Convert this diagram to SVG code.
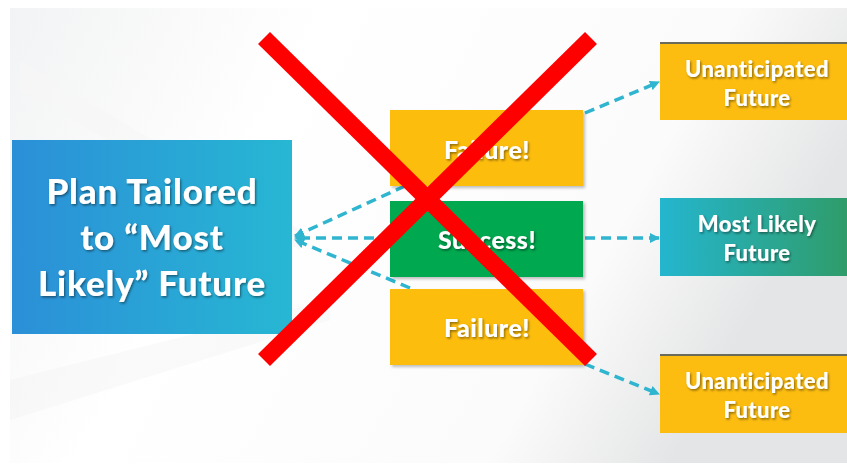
<svg xmlns="http://www.w3.org/2000/svg" width="847" height="465" viewBox="0 0 847 465">
<defs>
<linearGradient id="bg" x1="0" y1="0" x2="1" y2="0.3">
<stop offset="0" stop-color="#f2f3f4"/>
<stop offset="0.35" stop-color="#ffffff"/>
<stop offset="0.8" stop-color="#fbfbfb"/>
<stop offset="1" stop-color="#e4e5e6"/>
</linearGradient>
<linearGradient id="blue" x1="0" y1="0" x2="1" y2="0">
<stop offset="0" stop-color="#2b8fd8"/>
<stop offset="1" stop-color="#27b7d3"/>
</linearGradient>
<linearGradient id="teal" x1="0" y1="0" x2="1" y2="0">
<stop offset="0" stop-color="#24b6cf"/>
<stop offset="1" stop-color="#2f9c6a"/>
</linearGradient>
<filter id="ts" x="-10%" y="-20%" width="120%" height="150%">
<feDropShadow dx="1.2" dy="1.5" stdDeviation="0.8" flood-color="#000" flood-opacity="0.45"/>
</filter>
<filter id="bs" x="-5%" y="-5%" width="115%" height="120%">
<feDropShadow dx="2" dy="2" stdDeviation="1.5" flood-color="#000" flood-opacity="0.25"/>
</filter>
<marker id="ah" viewBox="0 0 10 10" refX="9" refY="5" markerWidth="10" markerHeight="10" markerUnits="userSpaceOnUse" orient="auto">
<path d="M0,0 L10,5 L0,10 z" fill="#2fb5cf"/>
</marker>
</defs>
<style>
.t{font-family:Lato,"Open Sans","DejaVu Sans",sans-serif;font-weight:900;fill:#fff;text-anchor:middle;filter:url(#ts)}
.big{font-size:35px;letter-spacing:0.8px}
.mid{font-size:25px;letter-spacing:0.5px}
.sm{font-size:22px;letter-spacing:0.4px}
.c{fill:none;stroke:#2fb5cf;stroke-width:3.5;stroke-dasharray:10 6}
.y{fill:#fdbd10}
.x{stroke:#ff0000;stroke-width:17;stroke-linecap:butt}
</style>
<rect x="0" y="0" width="847" height="465" fill="#fff"/>
<rect x="10" y="8" width="837" height="455" fill="url(#bg)"/>
<path d="M20,60 L300,230 L300,250 L20,90 z" fill="#f7f7f7" opacity="0.7"/>
<path d="M10,380 L330,300 L330,320 L10,420 z" fill="#f0f0f0" opacity="0.35"/>

<g id="connectors">
<line class="c" x1="405" y1="186" x2="295" y2="236" marker-end="url(#ah)"/>
<line class="c" x1="390" y1="238" x2="295" y2="238" marker-end="url(#ah)"/>
<line class="c" x1="410" y1="288" x2="295" y2="240" marker-end="url(#ah)"/>
<line class="c" x1="585" y1="113" x2="659" y2="82" marker-end="url(#ah)"/>
<line class="c" x1="585" y1="238" x2="659" y2="238" marker-end="url(#ah)"/>
<line class="c" x1="585" y1="364" x2="659" y2="394" marker-end="url(#ah)"/>
</g>

<g id="plan">
<rect x="12" y="140" width="280" height="194" fill="url(#blue)"/>
<text class="t big" x="152" y="204">Plan Tailored</text>
<text class="t big" x="152" y="250">to “Most</text>
<text class="t big" x="152" y="296">Likely” Future</text>
</g>

<g id="failure1">
<rect class="y" x="390" y="110" width="193" height="76" filter="url(#bs)"/>
<text class="t mid" x="487" y="159">Failure!</text>
</g>
<g id="success">
<rect x="390" y="201" width="193" height="76" fill="#00a84f" filter="url(#bs)"/>
<text class="t mid" x="487" y="249">Success!</text>
</g>
<g id="failure2">
<rect class="y" x="390" y="289" width="193" height="76" filter="url(#bs)"/>
<text class="t mid" x="487" y="337">Failure!</text>
</g>

<g id="unanticipated1">
<rect class="y" x="660" y="43" width="187" height="77"/>
<rect x="660" y="42" width="187" height="2" fill="#6b6b5a"/>
<text class="t sm" x="757" y="77">Unanticipated</text>
<text class="t sm" x="757" y="106">Future</text>
</g>
<g id="mostlikely">
<rect x="660" y="198" width="187" height="78" fill="url(#teal)"/>
<text class="t sm" x="757" y="232">Most Likely</text>
<text class="t sm" x="757" y="261">Future</text>
</g>
<g id="unanticipated2">
<rect class="y" x="660" y="355" width="187" height="78"/>
<rect x="660" y="354" width="187" height="2" fill="#6b6b5a"/>
<text class="t sm" x="757" y="389">Unanticipated</text>
<text class="t sm" x="757" y="418">Future</text>
</g>

<g id="cross">
<line class="x" x1="264" y1="38" x2="591" y2="360"/>
<line class="x" x1="591" y1="38" x2="264" y2="360"/>
</g>
</svg>
